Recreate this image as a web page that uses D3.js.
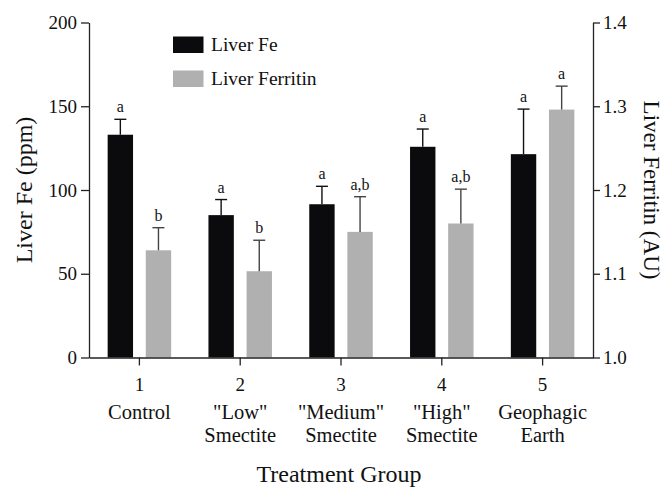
<!DOCTYPE html>
<html>
<head>
<meta charset="utf-8">
<script src="https://cdn.jsdelivr.net/npm/d3@7"></script>
<style>
  html, body { margin: 0; padding: 0; background: #fff; }
  svg text { font-family: "Liberation Serif", "DejaVu Serif", serif; fill: #111; }
</style>
</head>
<body>
<svg id="chart" width="665" height="491"></svg>
<script>
// ---- data ----
const groups = ["1", "2", "3", "4", "5"];
const groupNames = [["Control"], ['"Low"', "Smectite"], ['"Medium"', "Smectite"], ['"High"', "Smectite"], ["Geophagic", "Earth"]];
const seriesNames = ["Liver Fe", "Liver Ferritin"];
const feMean = [133, 85, 91.5, 125.8, 121.4];
const feErr = [9.2, 9.3, 10.7, 10.6, 26.9];
const ferritinMean = [1.128, 1.103, 1.150, 1.160, 1.296];
const ferritinErr = [0.027, 0.037, 0.042, 0.041, 0.028];
const feLetters = ["a", "a", "a", "a", "a"];
const ferritinLetters = ["b", "b", "a,b", "a,b", "a"];
const leftTicks = [0, 50, 100, 150, 200];
const rightTicks = [1.0, 1.1, 1.2, 1.3, 1.4];

// ---- layout ----
const svg = d3.select("#chart");
const L = 89, R = 593, T = 22.5, B = 357.5;
const colors = { "Liver Fe": "#0b0b0d", "Liver Ferritin": "#b0b0b0" };
const errColors = { "Liver Fe": "#111", "Liver Ferritin": "#444" };

const x0 = d3.scaleBand().domain(groups).range([L, R]).padding(0);
const bw = x0.bandwidth();
const x1 = d3.scaleBand().domain(seriesNames).range([bw * 0.185, bw * 0.815]).paddingInner(0.334).paddingOuter(0);
const yL = d3.scaleLinear().domain([0, 200]).range([B, T]);
const yR = d3.scaleLinear().domain([1.0, 1.4]).range([B, T]);

const rows = groups.map((g, i) => [
  { g, s: "Liver Fe", v: feMean[i], e: feErr[i], lab: feLetters[i], y: yL },
  { g, s: "Liver Ferritin", v: ferritinMean[i], e: ferritinErr[i], lab: ferritinLetters[i], y: yR }
]).flat();

// bars
svg.append("g").selectAll("rect").data(rows).join("rect")
  .attr("x", d => x0(d.g) + x1(d.s))
  .attr("width", x1.bandwidth())
  .attr("y", d => d.y(d.v))
  .attr("height", d => d.y.range()[0] - d.y(d.v))
  .attr("fill", d => colors[d.s]);

// error bars (upper only)
const eg = svg.append("g").selectAll("g").data(rows).join("g")
  .attr("stroke", d => errColors[d.s]).attr("stroke-width", 1.4);
eg.append("line")
  .attr("x1", d => x0(d.g) + x1(d.s) + x1.bandwidth() / 2)
  .attr("x2", d => x0(d.g) + x1(d.s) + x1.bandwidth() / 2)
  .attr("y1", d => d.y(d.v))
  .attr("y2", d => d.y(d.v + d.e));
eg.append("line")
  .attr("x1", d => x0(d.g) + x1(d.s) + x1.bandwidth() / 2 - 6)
  .attr("x2", d => x0(d.g) + x1(d.s) + x1.bandwidth() / 2 + 6)
  .attr("y1", d => d.y(d.v + d.e))
  .attr("y2", d => d.y(d.v + d.e));

// significance letters
svg.append("g").selectAll("text").data(rows).join("text")
  .attr("x", d => x0(d.g) + x1(d.s) + x1.bandwidth() / 2)
  .attr("y", d => d.y(d.v + d.e) - 7)
  .attr("text-anchor", "middle")
  .attr("font-size", 16)
  .text(d => d.lab);

// axes
const axStyle = g => {
  g.selectAll("path, line").attr("stroke", "#222").attr("stroke-width", 1.3);
  g.selectAll("text").attr("fill", "#111").attr("font-family", "Liberation Serif").attr("font-size", 19);
};
svg.append("g").attr("transform", `translate(${L},0)`)
  .call(d3.axisLeft(yL).tickValues(leftTicks).tickSize(8).tickPadding(4).tickSizeOuter(0))
  .call(axStyle);
svg.append("g").attr("transform", `translate(${R},0)`)
  .call(d3.axisRight(yR).tickValues(rightTicks).tickFormat(d3.format(".1f")).tickSize(7).tickPadding(3).tickSizeOuter(0))
  .call(axStyle);
const xa = svg.append("g").attr("transform", `translate(0,${B})`)
  .call(d3.axisBottom(x0).tickSize(8).tickSizeOuter(0).tickPadding(12))
  .call(axStyle);
xa.selectAll(".tick text").attr("dy", "0.71em");

// category names under numbers
svg.append("g").selectAll("text").data(groups).join("text")
  .attr("x", d => x0(d) + bw / 2)
  .attr("y", 419)
  .attr("text-anchor", "middle")
  .attr("font-size", 20.5)
  .each(function (d, i) {
    d3.select(this).selectAll("tspan").data(groupNames[i]).join("tspan")
      .attr("x", x0(d) + bw / 2)
      .attr("dy", (t, j) => j === 0 ? 0 : 22.5)
      .text(t => t);
  });

// axis titles
svg.append("text").attr("x", (L + R) / 2 - 2).attr("y", 482)
  .attr("text-anchor", "middle").attr("font-size", 24).text("Treatment Group");
svg.append("text").attr("transform", `translate(32,${(T + B) / 2}) rotate(-90)`)
  .attr("text-anchor", "middle").attr("font-size", 24).text("Liver Fe (ppm)");
svg.append("text").attr("transform", `translate(644,${(T + B) / 2}) rotate(90)`)
  .attr("text-anchor", "middle").attr("font-size", 23).text("Liver Ferritin (AU)");

// legend
const lg = svg.append("g").selectAll("g").data(seriesNames).join("g")
  .attr("transform", (d, i) => `translate(173,${36.5 + i * 34})`);
lg.append("rect").attr("width", 30.5).attr("height", 16.5).attr("fill", d => colors[d]);
lg.append("text").attr("x", 38).attr("y", 14.5).attr("font-size", 19.5).text(d => d);
</script>
</body>
</html>
